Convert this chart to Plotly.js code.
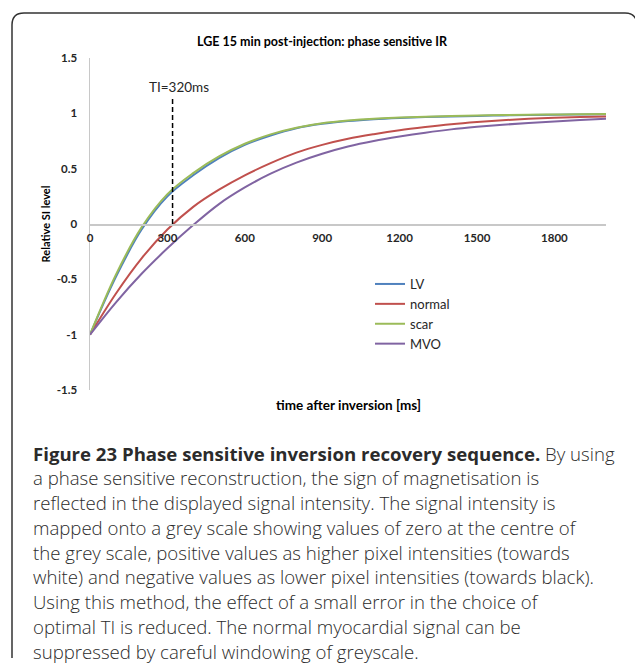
<!DOCTYPE html>
<html>
<head>
<meta charset="utf-8">
<script src="https://cdn.plot.ly/plotly-3.0.1.min.js"></script>
<style>
html,body{margin:0;padding:0;background:#fff;}
#chart{width:635px;height:667px;}
</style>
</head>
<body>
<div id="chart"></div>
<script>
// ---- data ----
const timeMs = [0,100,200,300,400,500,600,700,800,900,1000,1100,1200,1300,1400,1500,1600,1700,1800,1900,2000];
const lvSI     = [-1,-0.48,-0.05,0.25,0.44,0.595,0.715,0.80,0.865,0.905,0.93,0.947,0.958,0.966,0.972,0.977,0.981,0.985,0.988,0.99,0.992];
const normalSI = [-1,-0.63,-0.31,-0.05,0.155,0.31,0.44,0.55,0.645,0.715,0.77,0.812,0.848,0.877,0.902,0.922,0.938,0.95,0.959,0.966,0.972];
const scarSI   = [-1,-0.46,-0.03,0.27,0.46,0.61,0.725,0.81,0.87,0.91,0.935,0.952,0.962,0.97,0.976,0.98,0.985,0.988,0.99,0.992,0.995];
const mvoSI    = [-1,-0.71,-0.45,-0.22,-0.01,0.18,0.33,0.455,0.555,0.635,0.70,0.75,0.79,0.825,0.855,0.878,0.897,0.913,0.927,0.939,0.95];
const seriesNames = ['LV','normal','scar','MVO'];
const xTickVals = [0,300,600,900,1200,1500,1800];
const yTickVals = [-1.5,-1,-0.5,0,0.5,1,1.5];
const yTickText = ['-1.5','-1','-0.5','0','0.5','1','1.5'];
const tiMs = [320];
const tiLabel = 'TI=320ms';
const tiTop = [1.14];
const chartTitle = 'LGE 15 min post-injection: phase sensitive IR';
const xTitle = 'time after inversion [ms]';
const yTitle = 'Relative SI level';
const captionBold = 'Figure 23 Phase sensitive inversion recovery sequence.';
const captionLines = [
  ' By using',
  'a phase sensitive reconstruction, the sign of magnetisation is',
  'reflected in the displayed signal intensity. The signal intensity is',
  'mapped onto a grey scale showing values of zero at the centre of',
  'the grey scale, positive values as higher pixel intensities (towards',
  'white) and negative values as lower pixel intensities (towards black).',
  'Using this method, the effect of a small error in the choice of',
  'optimal TI is reduced. The normal myocardial signal can be',
  'suppressed by careful windowing of greyscale.'
];

// ---- styling ----
const colors = ['#4F81BD','#C0504D','#9BBB59','#8064A2'];
const W = 635, H = 667;
const L = 90, R = 606, T = 58, B = 390;
const px = x => (x - L) / (R - L);
const py = y => (B - y) / (B - T);
const chartFont = 'Lato, "Open Sans", sans-serif';
const capFont = '"Open Sans", "Noto Sans", sans-serif';

const ys = [lvSI, normalSI, scarSI, mvoSI];
const traces = ys.map((y, i) => ({
  x: timeMs, y: y, name: seriesNames[i], type: 'scatter', mode: 'lines',
  line: {color: colors[i], width: 2, shape: 'spline', smoothing: 1}
}));

const annotations = [];
annotations.push({xref:'x', yref:'y', x: tiMs[0], y: tiTop[0], text: tiLabel, showarrow:false,
  yanchor:'bottom', yshift: 1, xshift: 6, font:{family: chartFont, size: 13.5, color:'#262626'}});
annotations.push({xref:'paper', yref:'paper', x: px(348), y: py(405), text: '<b>' + xTitle + '</b>',
  showarrow:false, xanchor:'center', yanchor:'middle', font:{family: chartFont, size: 13.5, color:'#000'}});
const capTop = 453, capStep = 24.75;
captionLines.forEach((t, i) => {
  const txt = i === 0 ? '<b>' + captionBold + '</b>' + t : t;
  annotations.push({xref:'paper', yref:'paper', x: px(31), y: py(capTop + i * capStep), text: txt,
    showarrow:false, xanchor:'left', yanchor:'middle', align:'left',
    font:{family: capFont, size: 18.6, color:'#2b2b2b', weight: 300}});
});

const shapes = [
  {type:'line', xref:'x', yref:'y', x0: tiMs[0], x1: tiMs[0], y0: 0, y1: tiTop[0],
   line:{color:'#000', width:1.5, dash:'5px,3px'}},
  {type:'path', xref:'paper', yref:'paper', layer:'above',
   path: `M ${px(12)} ${py(658)} L ${px(12)} ${py(25)} Q ${px(12)} ${py(13)} ${px(24)} ${py(13)} L ${px(625)} ${py(13)} Q ${px(636)} ${py(13)} ${px(637)} ${py(24)}`,
   line:{color:'#333', width:1.5}}
];

const layout = {
  width: W, height: H,
  margin: {l: L, r: W - R, t: T, b: H - B, pad: 0},
  paper_bgcolor:'#fff', plot_bgcolor:'#fff',
  showlegend: true,
  title: {text: '<b>' + chartTitle + '</b>', x: 322 / W, xanchor:'center', y: 1 - 42 / H, yanchor:'middle',
    font:{family: chartFont, size: 12.5, color:'#000'}},
  xaxis: {range:[0,2000], anchor:'free', position:0.5, showline:true, linecolor:'#c8c8c8', linewidth:1.5,
    showgrid:false, zeroline:false, ticks:'', tickvals: xTickVals, ticktext: xTickVals.map(String),
    tickfont:{family: chartFont, size: 11.5, color:'#262626', weight: 'bold'}, ticklabelstandoff: 3},
  yaxis: {range:[-1.5,1.5], showline:true, linecolor:'#c8c8c8', linewidth:1.5, showgrid:false, zeroline:false,
    ticks:'', tickvals: yTickVals, ticktext: yTickText, ticklabelstandoff: 9,
    tickfont:{family: chartFont, size: 11.5, color:'#262626', weight: 'bold'},
    title:{text: '<b>' + yTitle + '</b>', standoff: 4, font:{family: chartFont, size: 11, color:'#000'}}},
  legend: {x: px(370), y: py(269), xanchor:'left', yanchor:'top', bgcolor:'rgba(0,0,0,0)',
    font:{family: chartFont, size: 13, color:'#262626'}, itemwidth: 30, tracegroupgap: 0},
  annotations: annotations,
  shapes: shapes
};

Plotly.newPlot('chart', traces, layout, {displayModeBar:false, staticPlot:true});
</script>
</body>
</html>
